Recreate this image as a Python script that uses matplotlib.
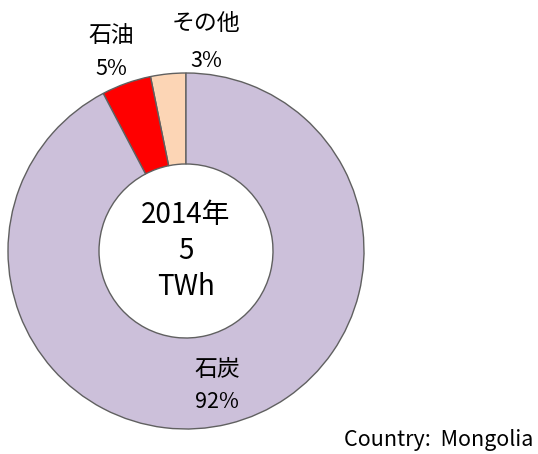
import matplotlib
matplotlib.use("Agg")
import matplotlib.pyplot as plt

plt.rcParams['font.family'] = ['Noto Sans CJK JP', 'DejaVu Sans']

# Data (counter-clockwise from 12 o'clock)
categories = ['その他', '石油', '石炭']
shares = [3.2, 4.5, 92.3]
pct_labels = ['3%', '5%', '92%']
colors = ['#FCD5B5', '#FF0000', '#CCC0DA']
center_text = '2014年\n5\nTWh'
note = 'Country:  Mongolia'

W, H = 538, 454
fig = plt.figure(figsize=(W / 100, H / 100), dpi=100)
ax = fig.add_axes([0, 0, 1, 1])

cx, cy = 186, H - 251
R, r_in = 178, 87
ax.pie(shares, colors=colors, startangle=90, counterclock=True,
       radius=R, center=(cx, cy),
       wedgeprops=dict(width=R - r_in, edgecolor='#606060', linewidth=1.0))
ax.set_xlim(0, W)
ax.set_ylim(0, H)
ax.set_aspect('equal')
ax.axis('off')

ax.text(cx, cy, center_text, ha='center', va='center', fontsize=20,
        linespacing=1.27, color='#000000')

label_pos = {
    'その他': (206, 24, 61),
    '石油': (111, 36, 69),
    '石炭': (217, 369, 402),
}
for cat, pct in zip(categories, pct_labels):
    x, y1, y2 = label_pos[cat]
    ax.text(x, H - y1, cat, ha='center', va='center', fontsize=16.5, color='#000000')
    ax.text(x, H - y2, pct, ha='center', va='center', fontsize=15.5, color='#000000')

ax.text(533, H - 440, note, ha='right', va='center', fontsize=15.5, color='#000000')

fig.savefig('out.png', dpi=100)
